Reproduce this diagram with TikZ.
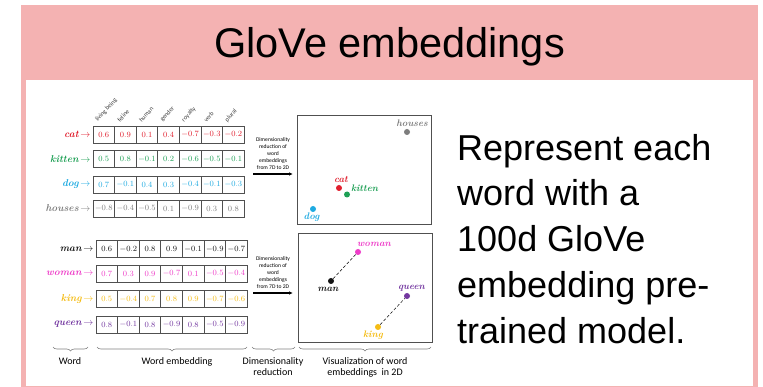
\documentclass[tikz,border=0pt]{standalone}
\usepackage{fontspec}
\setsansfont{Liberation Sans}
\newfontfamily\calfont{Carlito}
\usepackage{xcolor}
\usetikzlibrary{positioning,arrows.meta,decorations.pathreplacing}
\definecolor{slidepink}{RGB}{244,178,178}
\definecolor{cellgray}{RGB}{80,80,80}
\definecolor{catred}{RGB}{225,30,45}
\definecolor{kittengreen}{RGB}{30,160,85}
\definecolor{dogblue}{RGB}{30,170,225}
\definecolor{housegray}{RGB}{125,125,125}
\definecolor{manblack}{RGB}{20,20,20}
\definecolor{womanpink}{RGB}{238,60,200}
\definecolor{kinggold}{RGB}{245,188,20}
\definecolor{queenpurple}{RGB}{115,55,160}

\begin{document}
\begin{tikzpicture}[
  x=1pt, y=-1pt,
  >={Latex[length=4pt,width=3.5pt]},
  cell/.style={draw=cellgray, line width=0.7pt, minimum width=21.6pt, minimum height=17pt,
    inner sep=0pt, font=\fontsize{8.5}{8.5}\selectfont},
  word/.style={anchor=east, inner sep=0pt, font=\fontsize{10}{10}\selectfont\bfseries\itshape},
  attr/.style={anchor=south west, rotate=48, inner sep=0pt, text=darkgray,
    font=\calfont\fontsize{6.3}{6.5}\selectfont},
  dimtext/.style={anchor=south, align=center, inner sep=0pt, font=\calfont\fontsize{5.6}{7}\selectfont},
  reduce/.style={->, line width=1.1pt},
  plotbox/.style={draw=cellgray, line width=0.8pt, inner sep=0pt},
  dot/.style={circle, inner sep=0pt, minimum size=6pt},
  ptlabel/.style={inner sep=0pt, font=\fontsize{9.5}{10}\selectfont\bfseries\itshape},
  pair/.style={densely dashed, line width=0.5pt},
  grp/.style={decorate, decoration={brace, amplitude=4pt}, draw=gray, line width=0.6pt},
  grplabel/.style={anchor=north, align=center, inner sep=0pt, font=\calfont\fontsize{10}{11}\selectfont},
]
\useasboundingbox (0,0) rectangle (763,387);
% slide frame
\fill[slidepink] (21,5) rectangle (758,387);
\fill[white] (26,80) rectangle (753,385.5);
\node[anchor=base, inner sep=0pt, font=\sffamily\fontsize{41.5}{42}\selectfont] (title) at (389.5,57.7) {GloVe embeddings};
% attribute names
\foreach \a [count=\i] in {living being,feline,human,gender,royalty,verb,plural}
  \node[attr] (attr-\i) at (93+21.6*\i-16,123) {\a};
% word vectors
\foreach \w/\c/\y/\xo/\vals in {
    cat/catred/134.5/93/{0.6,0.9,0.1,0.4,-0.7,-0.3,-0.2},
    kitten/kittengreen/159/93/{0.5,0.8,-0.1,0.2,-0.6,-0.5,-0.1},
    dog/dogblue/184.5/93/{0.7,-0.1,0.4,0.3,-0.4,-0.1,-0.3},
    houses/housegray/208.5/93/{-0.8,-0.4,-0.5,0.1,-0.9,0.3,0.8},
    man/manblack/249/96/{0.6,-0.2,0.8,0.9,-0.1,-0.9,-0.7},
    woman/womanpink/273.5/96/{0.7,0.3,0.9,-0.7,0.1,-0.5,-0.4},
    king/kinggold/299/96/{0.5,-0.4,0.7,0.8,0.9,-0.7,-0.6},
    queen/queenpurple/324.5/96/{0.8,-0.1,0.8,-0.9,0.8,-0.5,-0.9}} {
  \node[word, text=\c] (w-\w) at (\xo-2.5,\y) {\w\,$\rightarrow$};
  \foreach \v [count=\i] in \vals
    \node[cell, text=\c] (\w-\i) at (\xo+21.6*\i-10.8,\y) {$\v$};
}
% reduction arrows
\node[dimtext] (dimA) at (273,170) {Dimensionality\\reduction of\\word\\embeddings\\from 7D to 2D};
\coordinate (dimA-in) at (253,174);
\coordinate (dimA-out) at (293,174);
\draw[reduce] (dimA-in) -- (dimA-out);
\node[dimtext] (dimB) at (273,289) {Dimensionality\\reduction of\\word\\embeddings\\from 7D to 2D};
\coordinate (dimB-in) at (253,293);
\coordinate (dimB-out) at (293,293);
\draw[reduce] (dimB-in) -- (dimB-out);
% 2D plots
\node[plotbox, minimum width=134pt, minimum height=109pt] (plotA) at (364,169.5) {};
\node[plotbox, minimum width=134pt, minimum height=109pt] (plotB) at (365,287.5) {};
\node[dot, fill=housegray] (p-houses) at (407,132) {};
\node[ptlabel, text=housegray] (l-houses) at (412,123) {houses};
\node[dot, fill=catred] (p-cat) at (339,188) {};
\node[ptlabel, text=catred] (l-cat) at (341,179.5) {cat};
\node[dot, fill=kittengreen] (p-kitten) at (347,194.5) {};
\node[ptlabel, text=kittengreen] (l-kitten) at (364.5,188.5) {kitten};
\node[dot, fill=dogblue] (p-dog) at (313,209) {};
\node[ptlabel, text=dogblue] (l-dog) at (311.5,217.5) {dog};
\node[dot, fill=womanpink] (p-woman) at (358,252) {};
\node[ptlabel, text=womanpink] (l-woman) at (374,244) {woman};
\node[dot, fill=manblack] (p-man) at (331,281) {};
\node[ptlabel, text=manblack] (l-man) at (328,289) {man};
\node[dot, fill=queenpurple] (p-queen) at (407,296) {};
\node[ptlabel, text=queenpurple] (l-queen) at (411.5,288.5) {queen};
\node[dot, fill=kinggold] (p-king) at (378,327) {};
\node[ptlabel, text=kinggold] (l-king) at (373,335) {king};
\draw[pair] (p-man) -- (p-woman);
\draw[pair] (p-king) -- (p-queen);
% braces underneath
\coordinate (bw1) at (53,347);   \coordinate (bw2) at (88,347);
\coordinate (be1) at (97,347);   \coordinate (be2) at (247,347);
\coordinate (bd1) at (252,347);  \coordinate (bd2) at (295,347);
\coordinate (bv1) at (299,347);  \coordinate (bv2) at (431,347);
\draw[grp] (bw2) -- (bw1);
\draw[grp] (be2) -- (be1);
\draw[grp] (bd2) -- (bd1);
\draw[grp] (bv2) -- (bv1);
\node[grplabel] (g-word) at (70,357) {Word};
\node[grplabel] (g-emb) at (177,357) {Word embedding};
\node[grplabel] (g-dim) at (273,357) {Dimensionality\\reduction};
\node[grplabel] (g-vis) at (365,357) {Visualization of word\\embeddings\ \ in 2D};
% description
\node[anchor=base west, align=left, inner sep=0pt, font=\sffamily\fontsize{36}{45.7}\selectfont] (desc) at (457,343)
  {Represent each\\word with a\\100d GloVe\\embedding pre-\\trained model.};
\end{tikzpicture}
\end{document}
